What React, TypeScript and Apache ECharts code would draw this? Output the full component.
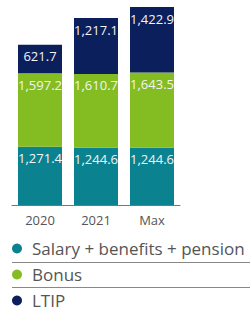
import React, { useEffect, useRef } from "react";
import * as echarts from "echarts";

const categories = ["2020", "2021", "Max"];
const salary = [1271.4, 1244.6, 1244.6];
const bonus = [1597.2, 1610.7, 1643.5];
const ltip = [621.7, 1217.1, 1422.9];
const seriesNames = ["Salary + benefits + pension", "Bonus", "LTIP"];
const colors = ["#0a8290", "#84bd22", "#0b1f5c"];

const fmt = (v: number) =>
  v.toLocaleString("en-US", { minimumFractionDigits: 1, maximumFractionDigits: 1 });

export default function App() {
  const ref = useRef<HTMLDivElement>(null);
  useEffect(() => {
    const chart = echarts.init(ref.current!, null, { renderer: "svg" });
    const font = "'Open Sans', sans-serif";
    const mk = (name: string, data: number[], color: string) => ({
      name,
      type: "bar",
      stack: "total",
      data,
      barWidth: 44,
      itemStyle: { color },
      label: {
        show: true,
        position: "insideTop",
        distance: 5,
        color: "#f2f4f5",
        fontSize: 13,
        fontFamily: font,
        formatter: (p: any) => fmt(p.value),
      },
    });
    chart.setOption({
      animation: false,
      grid: { left: 12, top: 5, width: 168, height: 200 },
      xAxis: {
        type: "category",
        data: categories,
        axisLine: { lineStyle: { color: "#777", width: 1 } },
        axisTick: { show: false },
        axisLabel: { color: "#555", fontSize: 13, fontFamily: font, margin: 8 },
      },
      yAxis: { type: "value", min: 0, max: 4357, show: false, splitLine: { show: false } },
      legend: {
        orient: "vertical",
        left: 12,
        top: 240,
        height: 80,
        padding: 0,
        icon: "circle",
        itemWidth: 10,
        itemHeight: 10,
        itemGap: 9,
        selectedMode: false,
        textStyle: { color: "#555", fontSize: 17, fontFamily: font, padding: [0, 0, 0, 5] },
        data: seriesNames,
      },
      graphic: [
        { type: "line", shape: { x1: 12, y1: 262.5, x2: 250, y2: 262.5 }, style: { stroke: "#888", lineWidth: 1 } },
        { type: "line", shape: { x1: 12, y1: 287.5, x2: 250, y2: 287.5 }, style: { stroke: "#888", lineWidth: 1 } },
      ],
      series: [
        mk(seriesNames[0], salary, colors[0]),
        mk(seriesNames[1], bonus, colors[1]),
        mk(seriesNames[2], ltip, colors[2]),
      ],
    });
    return () => chart.dispose();
  }, []);
  return <div ref={ref} style={{ width: 252, height: 311, position: "absolute", left: 0, top: 0 }} />;
}
